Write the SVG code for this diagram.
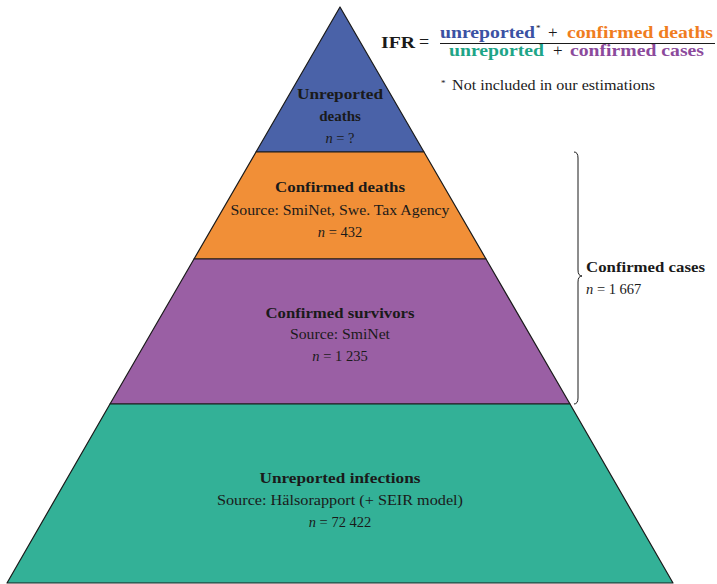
<svg xmlns="http://www.w3.org/2000/svg" width="717" height="584" viewBox="0 0 717 584">
<style>
text{font-family:"Liberation Serif","DejaVu Serif",serif;fill:#1a1a1a}
.b{font-weight:bold;font-size:15px}
.r{font-size:14.5px}
.c{text-anchor:middle}
.i{font-style:italic}
.tier{stroke:#1a1a1a;stroke-width:1.2;stroke-linejoin:round}
.f{font-size:17px;font-weight:bold}
</style>
<rect width="717" height="584" fill="#ffffff"/>
<g id="tier-unreported-deaths">
<polygon class="tier" points="340,7 424,152 256,152" fill="#4a62a8"/>
<text class="b c" x="340" y="99" textLength="86" lengthAdjust="spacingAndGlyphs">Unreported</text>
<text class="b c" x="340" y="121">deaths</text>
<text class="r c" x="340" y="143"><tspan class="i">n</tspan> = ?</text>
</g>
<g id="tier-confirmed-deaths">
<polygon class="tier" points="256,152 424,152 486,259 194,259" fill="#f18f37"/>
<text class="b c" x="340" y="192" textLength="130" lengthAdjust="spacingAndGlyphs">Confirmed deaths</text>
<text class="r c" x="340" y="215" textLength="219" lengthAdjust="spacingAndGlyphs">Source: SmiNet, Swe. Tax Agency</text>
<text class="r c" x="340" y="237"><tspan class="i">n</tspan> = 432</text>
</g>
<g id="tier-confirmed-survivors">
<polygon class="tier" points="194,259 486,259 570,404 110,404" fill="#9a5fa4"/>
<text class="b c" x="340" y="318" textLength="149" lengthAdjust="spacingAndGlyphs">Confirmed survivors</text>
<text class="r c" x="340" y="339" textLength="100" lengthAdjust="spacingAndGlyphs">Source: SmiNet</text>
<text class="r c" x="340" y="361"><tspan class="i">n</tspan> = 1 235</text>
</g>
<g id="tier-unreported-infections">
<polygon class="tier" points="110,404 570,404 673,583 7,583" fill="#33b197"/>
<text class="b c" x="340" y="483" textLength="161" lengthAdjust="spacingAndGlyphs">Unreported infections</text>
<text class="r c" x="340" y="505" textLength="246" lengthAdjust="spacingAndGlyphs">Source: Hälsorapport (+ SEIR model)</text>
<text class="r c" x="340" y="527"><tspan class="i">n</tspan> = 72 422</text>
</g>
<g id="connectors">
<path d="M574,152 Q578,152 578,158 L578,270 Q578,276 582,276 Q578,276 578,282 L578,398 Q578,404 574,404" fill="none" stroke="#1a1a1a" stroke-width="1"/>
</g>
<g id="confirmed-cases-label">
<text class="b" x="586" y="272" textLength="119" lengthAdjust="spacingAndGlyphs">Confirmed cases</text>
<text class="r" x="586" y="294"><tspan class="i">n</tspan> = 1 667</text>
</g>
<g id="formula">
<text class="f" x="381" y="48" textLength="34" lengthAdjust="spacingAndGlyphs">IFR</text>
<text x="419" y="48" style="font-size:18px">=</text>
<text class="f" x="440" y="38" style="fill:#3b52a3" textLength="95" lengthAdjust="spacingAndGlyphs">unreported</text>
<text x="536" y="31" style="font-size:9px">*</text>
<text x="548" y="38" style="font-size:17px">+</text>
<text class="f" x="567" y="38" style="fill:#f07d1f" textLength="146" lengthAdjust="spacingAndGlyphs">confirmed deaths</text>
<line x1="440" y1="43.5" x2="715" y2="43.5" stroke="#1a1a1a" stroke-width="1"/>
<text class="f" x="449" y="56" style="fill:#1ea587" textLength="95" lengthAdjust="spacingAndGlyphs">unreported</text>
<text x="553" y="56" style="font-size:17px">+</text>
<text class="f" x="570" y="56" style="fill:#8c4a9c" textLength="134" lengthAdjust="spacingAndGlyphs">confirmed cases</text>
<text x="441" y="86" style="font-size:9px">*</text>
<text class="r" x="452" y="90" textLength="203" lengthAdjust="spacingAndGlyphs">Not included in our estimations</text>
</g>
</svg>
